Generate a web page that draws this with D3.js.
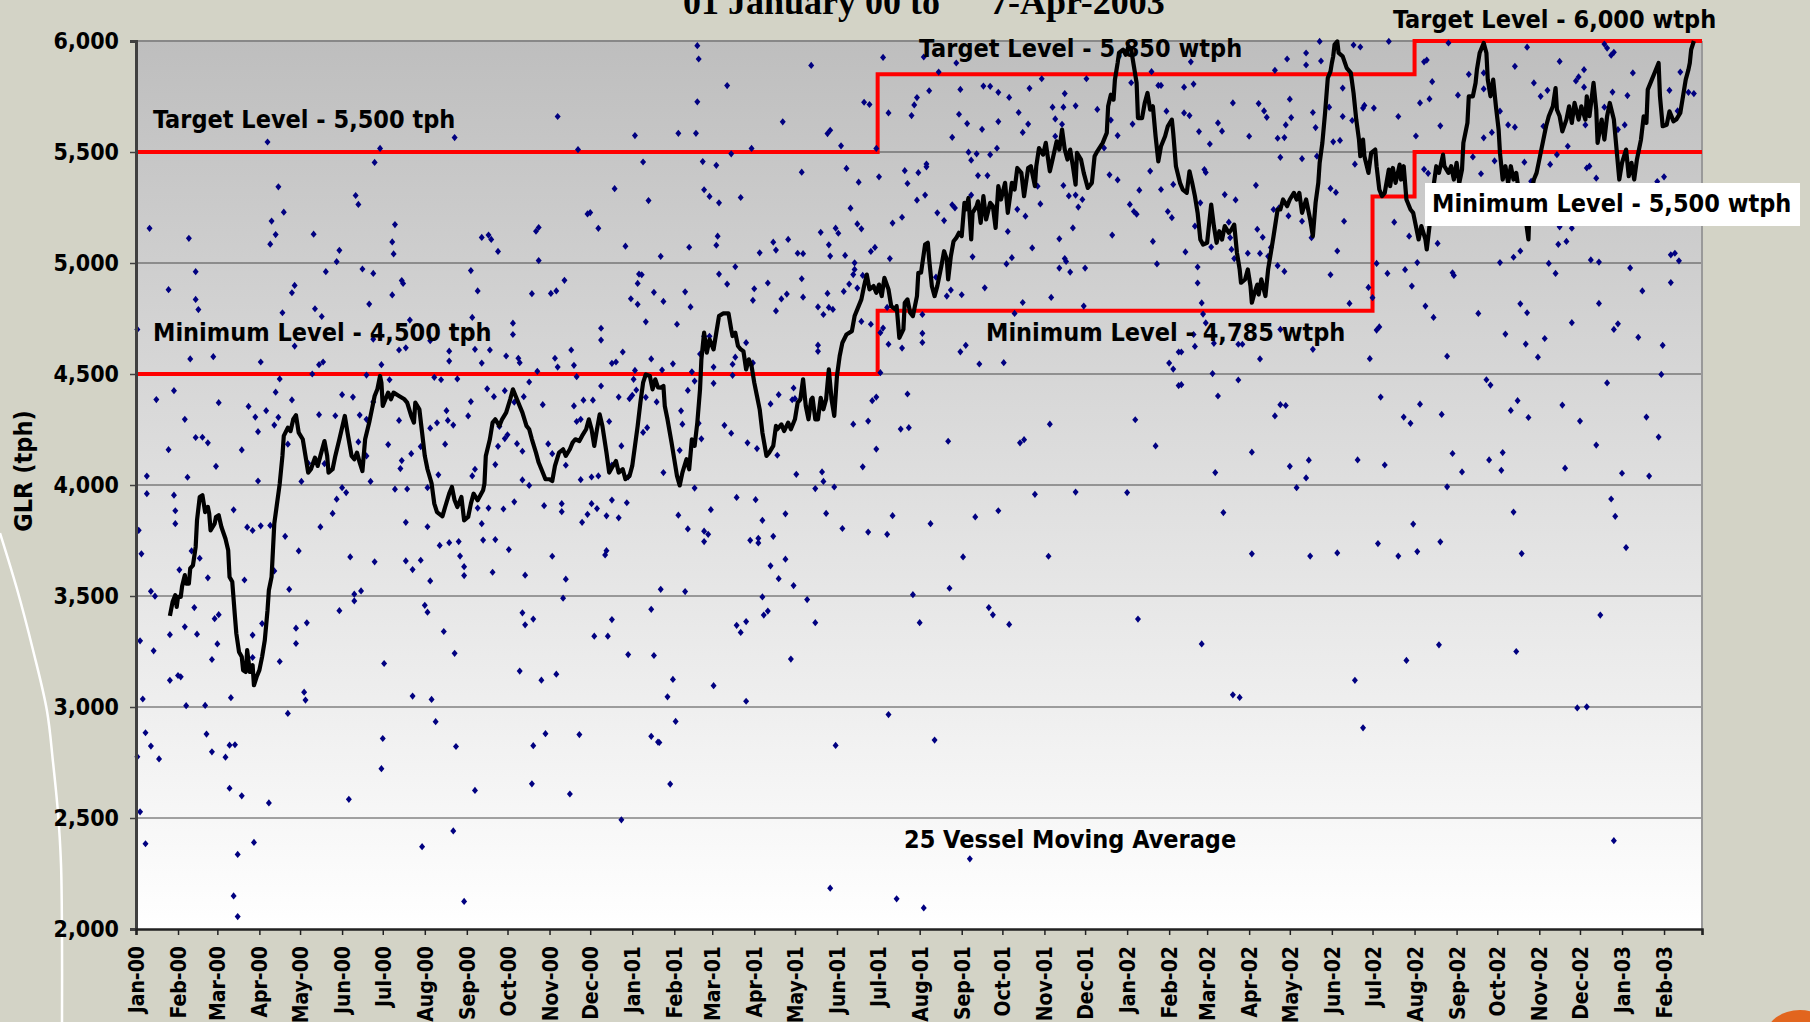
<!DOCTYPE html>
<html><head><meta charset="utf-8">
<script src="https://cdn.jsdelivr.net/npm/d3@7"></script>
<style>
html,body{margin:0;padding:0;background:#D3D3C6;overflow:hidden;}
svg{display:block;}
.lbl{font-family:'DejaVu Sans Condensed','DejaVu Sans',sans-serif;font-stretch:condensed;font-weight:bold;fill:#000;}
</style></head><body>
<svg id="chart" width="1810" height="1022"></svg>
<script>
// ---------------- DATA ----------------
// x values are days since 01-Jan-2000, y values are GLR (tph)
const yTickValues = [2000, 2500, 3000, 3500, 4000, 4500, 5000, 5500, 6000];

// Target / minimum levels: [day, value] step points
const targetLevelSteps = [[0,5500],[547,5850],[943,6000],[1155,6000]];
const minimumLevelSteps = [[0,4500],[547,4785],[912,5300],[943,5500],[1155,5500]];

// Individual vessel loading rates
const vesselLoads2000 = [
[311,5660],[97,5545],[235,5565],[180,5516],[326,5511],[368,5574],[176,5453],[374,5455],[105,5343],[353,5335],[162,5304],[164,5264],[378,5281],[109,5229],[333,5221],[335,5227],[100,5189],[191,5173],[10,5156],[295,5143],[297,5160],[341,5156],[39,5111],[131,5130],[103,5128],[255,5115],[260,5126],[262,5106],[99,5085],[189,5095],[150,5057],[190,5041],[267,5052],[361,5076],[148,5006],[297,5011],[44,4961],[140,4961],[167,4973],[175,4953],[247,4966],[316,4922],[371,4950],[373,4947],[24,4880],[117,4899],[115,4866],[196,4921],[197,4908],[252,4874],[292,4862],[306,4863],[310,4874],[370,4908],[382,4868],[189,4856],[44,4836],[365,4839],[370,4814],[46,4790],[172,4815],[132,4794],[108,4776],[137,4759],[248,4755],[202,4743],[278,4729],[376,4735],[1,4701],[343,4706],[278,4678],[175,4657],[343,4653],[217,4650],[117,4626],[199,4618],[194,4608],[250,4611],[261,4608],[231,4603],[321,4608],[359,4599],[57,4578],[40,4568],[273,4581],[309,4571],[282,4571],[283,4551],[92,4554],[231,4558],[135,4542],[138,4554],[255,4549],[311,4531],[323,4539],[181,4542],[351,4548],[354,4554],[380,4568],[130,4500],[170,4495],[296,4512],[368,4516],[106,4478],[220,4485],[225,4474],[237,4478],[187,4474],[325,4488],[367,4476],[290,4464],[103,4418],[28,4425],[15,4385],[259,4433],[272,4425],[152,4407],[160,4396],[264,4398],[279,4373],[286,4398],[343,4446],[369,4428],[356,4396],[364,4389],[366,4404],[376,4395],[115,4383],[247,4376],[330,4382],[337,4382],[61,4371],[83,4354],[323,4356],[300,4362],[384,4374],[96,4335],[175,4374],[229,4335],[88,4306],[105,4305],[135,4317],[147,4312],[165,4315],[170,4296],[245,4311],[36,4296],[194,4291],[230,4291],[234,4270],[325,4286],[328,4296],[349,4286],[102,4270],[90,4240],[217,4256],[222,4280],[268,4264],[274,4226],[272,4209],[374,4237],[377,4258],[44,4214],[49,4215],[53,4190],[112,4184],[164,4194],[186,4182],[228,4184],[267,4174],[281,4186],[304,4185],[358,4176],[24,4159],[78,4158],[203,4141],[285,4152],[307,4141],[210,4173],[127,4098],[139,4096],[196,4110],[265,4092],[317,4089],[351,4090],[59,4084],[170,4131],[8,4040],[38,4035],[223,4046],[248,4041],[250,4071],[195,4074],[336,4036],[341,4041],[363,4036],[90,4018],[122,4016],[173,4016],[285,4023],[328,4024],
[8,3961],[28,3954],[29,3884],[29,3826],[2,3796],[4,3690],[72,3888],[82,3810],[86,3795],[92,3816],[99,3818],[110,3769],[136,3811],[145,3872],[148,3936],[152,3988],[155,3966],[191,3981],[200,3982],[215,3988],[199,3832],[215,3812],[224,3728],[231,3740],[238,3745],[239,3680],[242,3632],[242,3592],[252,3896],[260,3896],[255,3826],[256,3752],[265,3754],[271,3892],[279,3924],[275,3709],[263,3607],[290,3998],[301,3907],[314,3916],[314,3880],[307,3679],[287,3594],[317,3576],[315,3490],[329,3832],[333,3868],[336,3916],[340,3894],[347,3861],[351,3932],[356,3852],[362,3920],[346,3685],[347,3704],[120,3703],[158,3676],[176,3654],[199,3658],[204,3619],[210,3661],[217,3568],[47,3670],[41,3703],[32,3618],[53,3582],[80,3572],[102,3613],[11,3521],[14,3499],[113,3530],[161,3508],[161,3478],[166,3523],[150,3434],[126,3379],[118,3355],[118,3286],[43,3448],[36,3361],[45,3328],[58,3398],[61,3416],[60,3284],[56,3214],[3,3298],[13,3253],[25,3326],[25,3120],[31,3142],[33,3136],[5,3036],[37,3006],[51,3007],[70,3042],[86,3324],[86,3223],[93,3376],[106,3205],[124,3067],[125,3031],[112,2971],[7,2884],[11,2824],[17,2766],[1,2776],[52,2878],[56,2798],[69,2828],[73,2830],[66,2774],[69,2634],[78,2600],[98,2568],[3,2528],[7,2384],[87,2390],[75,2336],[72,2149],[75,2056],[157,2584],[181,2722],[182,2858],[183,3196],[204,3049],[218,3034],[221,2934],[213,3458],[215,3427],[227,3340],[235,3242],[236,2822],[250,2624],[211,2371],[234,2442],[242,2124],[285,3424],[287,3370],[293,3396],[283,3162],[299,3121],[310,3148],[293,2826],[302,2880],[292,2654],[320,2608],[327,2876],[338,3319],[348,3319],[351,3394],[363,3236],[358,2492],[380,3440],[382,3232],[380,2868],[385,2842]
];
const vesselLoads2001 = [
[414,5979],[415,5919],[498,5890],[551,5926],[581,5928],[605,5901],[592,5860],[436,5799],[414,5726],[537,5724],[541,5714],[585,5776],[608,5782],[625,5797],[630,5796],[636,5769],[644,5746],[659,5787],[668,5830],[685,5763],[701,5830],[734,5812],[749,5862],[754,5800],[756,5800],[760,5684],[576,5745],[574,5712],[572,5664],[555,5676],[477,5636],[400,5584],[413,5584],[510,5583],[512,5598],[520,5528],[454,5516],[439,5492],[546,5516],[607,5670],[613,5628],[624,5602],[602,5566],[636,5637],[651,5678],[658,5626],[654,5588],[676,5702],[684,5702],[693,5708],[709,5692],[678,5649],[683,5625],[678,5571],[719,5644],[724,5574],[735,5626],[714,5518],[614,5499],[620,5492],[630,5488],[635,5517],[616,5463],[418,5457],[428,5440],[491,5409],[524,5426],[533,5364],[548,5388],[567,5416],[569,5358],[577,5407],[583,5446],[583,5433],[582,5306],[576,5283],[621,5394],[628,5394],[616,5306],[602,5262],[604,5248],[591,5226],[596,5191],[565,5206],[558,5180],[527,5247],[532,5176],[535,5154],[419,5330],[423,5300],[430,5271],[446,5295],[665,5346],[684,5349],[667,5266],[688,5302],[693,5306],[695,5252],[698,5286],[650,5242],[656,5211],[643,5142],[691,5158],[681,5109],[661,5068],[720,5126],[718,5397],[724,5374],[748,5414],[740,5328],[733,5264],[736,5232],[738,5220],[756,5331],[761,5232],[764,5204],[750,5097],[765,5354],[753,4996],[387,5030],[408,5071],[429,5121],[428,5080],[460,5046],[470,5094],[472,5058],[481,5106],[488,5044],[492,5042],[505,5138],[516,5157],[518,5134],[511,5082],[512,5031],[523,5034],[542,5052],[545,5070],[556,5020],[530,5001],[530,4971],[529,4948],[442,4983],[430,4950],[436,4905],[456,4884],[455,4832],[466,4910],[491,4929],[480,4860],[476,4838],[492,4846],[510,4863],[522,4872],[526,4905],[532,4887],[536,4944],[405,4870],[389,4827],[409,4802],[399,4724],[472,4784],[503,4802],[507,4768],[511,4800],[514,4791],[535,4737],[542,4724],[551,4707],[554,4800],[549,4686],[555,4634],[565,4617],[580,4768],[580,4683],[580,4642],[590,4936],[601,4878],[598,4851],[609,4857],[626,4888],[648,4773],[654,4822],[675,4845],[699,4806],[642,4996],[646,5024],[617,5028],[685,5020],[686,5007],[681,4977],[689,4959],[700,4977],[426,4531],[419,4670],[423,4670],[440,4544],[440,4494],[442,4576],[410,4510],[412,4468],[396,4546],[388,4518],[407,4426],[416,4590],[450,4641],[455,4550],[426,4458],[402,4334],[403,4274],[401,4156],[417,4208],[415,4278],[434,4269],[439,4233],[389,4056],[451,4190],[458,4164],[468,4365],[474,4407],[473,4134],[485,4437],[484,4384],[486,4389],[503,4630],[503,4602],[487,4048],[506,4059],[507,4016],[529,4274],[540,4288],[543,4380],[546,4396],[546,4162],[536,4082],[549,4506],[569,4410],[570,4258],[564,4252],[599,4197],[608,4600],[612,4629],[622,4545],[640,4551],[652,4190],[655,4204],[674,4274],[737,4294],[752,4176],[762,4549],[765,4522],[769,4599],[769,4448],
[412,3986],[400,3864],[407,3802],[424,3889],[419,3792],[422,3778],[419,3745],[443,3944],[457,3934],[462,3841],[453,3751],[459,3760],[459,3739],[470,3769],[479,3870],[479,3666],[468,3636],[474,3578],[485,3547],[501,3984],[515,3991],[509,3872],[521,3804],[540,3788],[554,3778],[558,3862],[586,3826],[610,3676],[619,3856],[636,3884],[663,3958],[673,3679],[693,3968],[731,3966],[600,3535],[573,3506],[387,3530],[405,3520],[462,3496],[495,3484],[443,3368],[446,3336],[450,3385],[463,3414],[466,3432],[501,3380],[578,3380],[629,3448],[632,3415],[644,3372],[739,3396],[483,3216],[396,3124],[392,3046],[426,3096],[450,3026],[398,2935],[386,2840],[555,2966],[516,2827],[589,2851],[394,2653],[615,2316],[512,2184],[561,2136],[581,2095]
];
const vesselLoads2002 = [
[873,5998],[898,5982],[903,5973],[924,5998],[968,5991],[1026,5972],[1083,5986],[1085,5968],[1088,5936],[1090,5949],[863,5946],[849,5919],[863,5892],[874,5910],[778,5906],[840,5868],[950,5906],[952,5914],[1017,5886],[1050,5908],[1068,5871],[1064,5838],[1062,5820],[1104,5856],[1139,5860],[983,5850],[994,5856],[994,5784],[956,5817],[773,5792],[780,5806],[890,5788],[1031,5811],[1041,5778],[1036,5751],[1068,5792],[1089,5770],[1100,5754],[1131,5778],[1145,5769],[1149,5763],[809,5721],[828,5718],[851,5738],[832,5685],[834,5656],[773,5676],[777,5664],[880,5702],[868,5678],[906,5710],[905,5698],[913,5698],[947,5721],[954,5739],[975,5756],[931,5660],[890,5660],[852,5655],[798,5631],[801,5594],[784,5592],[821,5571],[842,5562],[847,5565],[848,5622],[870,5610],[792,5536],[883,5546],[888,5552],[897,5642],[962,5618],[944,5572],[994,5564],[1006,5684],[1012,5622],[1017,5612],[1000,5588],[1038,5616],[1069,5622],[1083,5702],[1093,5601],[1098,5622],[1137,5685],[1056,5526],[844,5476],[860,5470],[871,5481],[788,5421],[789,5408],[899,5445],[986,5478],[1002,5460],[1024,5454],[1043,5444],[1048,5488],[1072,5436],[1070,5428],[1077,5382],[1122,5367],[1127,5388],[950,5422],[953,5404],[992,5402],[1029,5368],[826,5350],[803,5308],[811,5284],[881,5336],[885,5318],[785,5271],[839,5241],[843,5248],[850,5212],[860,5188],[891,5188],[781,5166],[827,5152],[831,5116],[806,5184],[807,5114],[928,5184],[939,5121],[774,5050],[793,5072],[808,5061],[810,5020],[820,5044],[829,5043],[835,5030],[837,5070],[867,5114],[886,5054],[960,5088],[1050,5163],[1059,5157],[1049,5084],[1055,5097],[1016,5026],[1021,5054],[1006,5002],[1042,4998],[1073,5014],[1079,5004],[1102,4978],[1132,5037],[1135,5044],[1138,5010],[783,4982],[783,4910],[842,4988],[847,4962],[881,4947],[915,4998],[923,4953],[936,4970],[945,5002],[941,4896],[909,4890],[912,4844],[971,4956],[972,4944],[1047,4953],[1111,4874],[1132,4912],[786,4820],[895,4818],[951,4806],[957,4755],[990,4773],[1021,4816],[1026,4776],[1079,4818],[787,4770],[789,4730],[1059,4731],[1090,4701],[1093,4726],[915,4698],[917,4712],[1010,4680],[1108,4665],[1039,4660],[1126,4629],[1025,4635],[1034,4576],[967,4580],[910,4569],[829,4568],[868,4611],[780,4678],[781,4624],[795,4638],[813,4634],[816,4634],[844,4701],[771,4599],[794,4502],[813,4473],[771,4452],[798,4401],[840,4311],[844,4362],[848,4358],[918,4396],[947,4364],[935,4306],[940,4278],[963,4318],[996,4474],[999,4450],[1014,4336],[1019,4380],[1027,4304],[1052,4360],[1065,4288],[1085,4460],[1114,4306],[1125,4498],[1123,4216],[1077,4180],[823,4148],[796,4056],[851,4084],[865,4112],[863,4032],[901,4113],[921,4090],[971,4142],[978,4059],[998,4113],[1007,4066],[1008,4146],[1054,4076],[1096,4053],[1116,4040],
[856,3988],[967,3992],[802,3876],[823,3690],[866,3680],[886,3694],[916,3736],[931,3680],[942,3824],[945,3700],[962,3744],[1016,3878],[1022,3691],[1088,3937],[1091,3859],[1099,3718],[786,3284],[809,3055],[814,3043],[899,3120],[905,2906],[937,3210],[961,3280],[1018,3250],[1063,2996],[1070,3001],[1080,3414],[1090,2398]
];

// 25 vessel moving average
const movingAverage2000 = [
[25,3410],[27,3474],[29,3504],[30,3451],[31,3496],[33,3496],[34,3544],[36,3594],[37,3556],[39,3556],[40,3624],[42,3638],[44,3721],[45,3841],[47,3946],[49,3954],[51,3878],[53,3901],[54,3871],[55,3796],[58,3826],[59,3856],[61,3864],[63,3811],[66,3758],[68,3706],[69,3586],[71,3564],[73,3406],[74,3331],[76,3248],[78,3226],[79,3166],[81,3158],[82,3256],[84,3158],[86,3188],[87,3098],[89,3136],[91,3166],[93,3226],[95,3301],[97,3436],[98,3526],[100,3586],[101,3706],[102,3826],[104,3916],[105,3961],[106,4006],[108,4131],[109,4221],[112,4258],[114,4243],[116,4296],[118,4314],[120,4236],[123,4206],[125,4131],[127,4056],[129,4071],[132,4123],[134,4086],[136,4131],[139,4198],[141,4131],[142,4056],[145,4071],[147,4131],[150,4206],[154,4311],[156,4236],[159,4131],[161,4116],[163,4146],[165,4101],[167,4063],[169,4206],[172,4281],[175,4371],[176,4401],[178,4431],[180,4491],[181,4461],[182,4356],[184,4386],[186,4416],[188,4386],[190,4416],[194,4401],[198,4386],[200,4371],[203,4311],[205,4281],[206,4371],[209,4341],[211,4236],[213,4131],[215,4071],[218,4008],[220,3916],[222,3878],[226,3859],[228,3901],[231,3961],[233,3991],[235,3931],[237,3901],[240,3946],[242,3841],[245,3856],[247,3916],[249,3961],[252,3931],[256,3976],[257,4006],[258,4131],[261,4206],[263,4281],[265,4296],[268,4266],[270,4296],[273,4326],[276,4386],[278,4431],[280,4401],[283,4356],[285,4326],[288,4266],[290,4251],[292,4206],[295,4146],[297,4101],[300,4056],[302,4026],[305,4026],[307,4018],[309,4086],[312,4146],[315,4161],[317,4131],[320,4161],[322,4191],[324,4206],[327,4198],[329,4221],[332,4251],[334,4296],[336,4251],[338,4176],[340,4251],[342,4318],[344,4266],[347,4146],[349,4056],[351,4078],[354,4108],[356,4056],[359,4071],[361,4026],[364,4041],[366,4086],[368,4176],[370,4266],[372,4371],[374,4461],[376,4498],[379,4491],[381,4431],[383,4476],[385,4440]
];
const movingAverage2001 = [
[387,4438],[389,4446],[390,4356],[392,4296],[395,4191],[397,4116],[399,4041],[401,3998],[403,4056],[406,4116],[408,4071],[410,4206],[412,4176],[414,4281],[416,4431],[417,4566],[419,4686],[421,4596],[423,4656],[426,4611],[428,4686],[430,4761],[433,4773],[437,4773],[439,4701],[440,4671],[442,4686],[444,4626],[446,4611],[448,4603],[450,4521],[452,4566],[454,4536],[456,4461],[458,4401],[460,4341],[462,4236],[465,4131],[467,4146],[470,4176],[472,4266],[473,4251],[476,4273],[478,4243],[481,4281],[483,4251],[486,4296],[488,4371],[490,4386],[492,4476],[494,4356],[496,4296],[498,4386],[499,4393],[501,4296],[503,4296],[505,4393],[507,4341],[509,4386],[511,4521],[513,4386],[515,4311],[517,4491],[519,4581],[521,4641],[524,4678],[528,4693],[530,4761],[532,4791],[535,4836],[537,4896],[539,4948],[541,4881],[544,4896],[546,4866],[548,4903],[550,4851],[552,4933],[555,4881],[557,4806],[560,4791],[561,4806],[563,4663],[566,4701],[567,4821],[569,4836],[571,4776],[573,4761],[576,4851],[577,4956],[579,4956],[582,5083],[584,5091],[585,5016],[587,4896],[589,4851],[591,4896],[594,4986],[596,5053],[598,5016],[599,4926],[601,5031],[603,5098],[605,5113],[607,5136],[609,5121],[611,5271],[612,5241],[614,5293],[616,5106],[617,5226],[620,5256],[621,5278],[623,5181],[625,5301],[627,5196],[630,5271],[632,5256],[634,5158],[636,5346],[638,5286],[641,5361],[643,5226],[646,5361],[648,5331],[650,5428],[653,5406],[655,5301],[658,5428],[660,5436],[663,5346],[664,5436],[666,5518],[669,5488],[671,5541],[674,5413],[676,5466],[679,5548],[681,5511],[683,5601],[685,5511],[687,5466],[689,5511],[691,5436],[693,5353],[694,5496],[697,5466],[699,5406],[702,5338],[705,5361],[707,5481],[709,5503],[713,5541],[716,5586],[717,5706],[719,5758],[721,5736],[722,5826],[724,5901],[725,5946],[728,5961],[730,5938],[732,5976],[734,5961],[736,5886],[738,5811],[739,5653],[742,5653],[744,5721],[746,5766],[748,5691],[750,5706],[752,5571],[754,5458],[756,5526],[759,5571],[761,5616],[764,5646],[765,5586],[767,5436],[770,5361]
];
const movingAverage2002 = [
[772,5331],[775,5316],[777,5413],[779,5361],[781,5301],[783,5226],[785,5106],[787,5083],[790,5091],[793,5263],[795,5166],[797,5091],[799,5143],[801,5106],[803,5166],[806,5136],[808,5151],[810,5173],[812,5046],[814,4971],[815,4911],[818,4926],[820,4971],[822,4896],[823,4821],[825,4866],[827,4903],[828,4858],[830,4926],[833,4851],[835,4971],[837,5046],[839,5121],[842,5241],[844,5241],[846,5286],[849,5256],[851,5286],[854,5316],[856,5286],[858,5316],[860,5226],[863,5286],[866,5196],[868,5121],[870,5271],[872,5361],[873,5451],[875,5541],[877,5676],[879,5833],[881,5863],[882,5901],[883,5931],[884,5984],[886,5998],[887,5946],[890,5931],[893,5878],[896,5856],[898,5766],[900,5646],[902,5556],[903,5481],[905,5556],[906,5481],[909,5406],[911,5496],[914,5511],[915,5436],[917,5331],[919,5301],[921,5316],[924,5421],[925,5346],[927,5428],[929,5361],[932,5443],[933,5376],[935,5436],[937,5286],[940,5241],[942,5226],[944,5166],[946,5106],[948,5166],[951,5106],[952,5061],[954,5166],[957,5346],[959,5436],[961,5406],[964,5488],[965,5436],[968,5406],[970,5436],[972,5376],[974,5451],[976,5361],[978,5421],[979,5541],[982,5631],[983,5751],[986,5751],[988,5811],[989,5871],[991,5946],[994,5991],[996,5946],[997,5826],[999,5751],[1001,5826],[1003,5706],[1005,5601],[1006,5496],[1008,5376],[1010,5436],[1012,5361],[1014,5436],[1016,5376],[1018,5406],[1020,5316],[1023,5226],[1025,5196],[1027,5106],[1028,5286],[1031,5376],[1033,5406],[1035,5466],[1038,5556],[1040,5616],[1042,5661],[1045,5706],[1047,5788],[1048,5691],[1050,5661],[1052,5593],[1055,5646],[1057,5706],[1059,5631],[1061,5721],[1064,5646],[1066,5706],[1069,5646],[1070,5751],[1072,5661],[1075,5811],[1077,5691],[1078,5541],[1081,5646],[1083,5556],[1085,5661],[1087,5721],[1090,5646],[1092,5511],[1094,5376],[1096,5451],[1099,5511],[1101,5391],[1103,5451],[1105,5376],[1107,5466],[1110,5556],[1112,5661],[1114,5631],[1115,5781],[1118,5826],[1120,5856],[1123,5901],[1124,5751],[1126,5616],[1129,5623],[1131,5683],[1134,5638],[1136,5646],[1139,5676],[1141,5751],[1143,5826],[1145,5871],[1146,5901],[1147,5961],[1149,6000]
];

// ---------------- CHART ----------------
const svg = d3.select("#chart");
const start = new Date(Date.UTC(2000,0,1));
const end = new Date(Date.UTC(2003,2,1));
const toDate = d => d3.utcDay.offset(start, d);

const x = d3.scaleUtc().domain([start, end]).range([136, 1702]);
const y = d3.scaleLinear().domain([2000, 6000]).range([929, 41]);

const defs = svg.append("defs");
const grad = defs.append("linearGradient").attr("id","plotGrad").attr("x1",0).attr("y1",0).attr("x2",0).attr("y2",1);
grad.append("stop").attr("offset","0%").attr("stop-color","#BEBEBE");
grad.append("stop").attr("offset","100%").attr("stop-color","#FFFFFF");

// decorative slide elements
svg.append("path")
  .attr("d", d3.line().curve(d3.curveCatmullRom)([[0,533],[17,589],[33,650],[47,711],[53,762],[58,813],[61,864],[62,940],[62,1022]]))
  .attr("fill","none").attr("stroke","#FFFFFF").attr("stroke-width",2.5);
svg.append("ellipse").attr("cx",1800).attr("cy",1036).attr("rx",34).attr("ry",26).attr("fill","#E2651E");

// plot area
svg.append("rect").attr("x",136).attr("y",41).attr("width",1566).attr("height",888).attr("fill","url(#plotGrad)");

// gridlines
svg.append("g").selectAll("line").data(yTickValues.filter(v => v > 2000 && v < 6000)).join("line")
  .attr("x1",136).attr("x2",1702).attr("y1",d=>y(d)).attr("y2",d=>y(d))
  .attr("stroke","#4a4a4a").attr("stroke-width",1);
// top + right border
svg.append("line").attr("x1",136).attr("x2",1702).attr("y1",y(6000)).attr("y2",y(6000)).attr("stroke","#888").attr("stroke-width",2);
svg.append("line").attr("x1",1702).attr("x2",1702).attr("y1",y(6000)).attr("y2",y(2000)).attr("stroke","#999").attr("stroke-width",2);

// step levels
const stepLine = d3.line().curve(d3.curveStepAfter).x(d=>x(toDate(d[0]))).y(d=>y(d[1]));
svg.append("path").attr("d",stepLine(targetLevelSteps)).attr("fill","none").attr("stroke","#FF0000").attr("stroke-width",4);
svg.append("path").attr("d",stepLine(minimumLevelSteps)).attr("fill","none").attr("stroke","#FF0000").attr("stroke-width",4);

// scatter of individual vessels
const allLoads = vesselLoads2000.concat(vesselLoads2001, vesselLoads2002);
svg.append("g").selectAll("path").data(allLoads).join("path")
  .attr("transform", d => `translate(${x(toDate(d[0]))},${y(d[1])})`)
  .attr("d","M0,-3.6L3,0L0,3.6L-3,0Z")
  .attr("fill","#000080");

// annotations (under the moving average)
const ann = svg.append("g");
function label(txt, xx, yy){ return ann.append("text").attr("class","lbl").attr("x",xx).attr("y",yy).attr("font-size",25).text(txt); }
label("Target Level - 5,500 tph", 153, 128);
label("Minimum Level - 4,500 tph", 153, 341);
label("Target Level - 5,850 wtph", 919, 57);
label("Minimum Level - 4,785 wtph", 986, 341);
label("25 Vessel Moving Average", 904, 848);
label("Target Level - 6,000 wtph", 1393, 28);

// moving average line
const maData = movingAverage2000.concat(movingAverage2001, movingAverage2002);
svg.append("path")
  .attr("d", d3.line().x(d=>x(toDate(d[0]))).y(d=>y(d[1]))(maData))
  .attr("fill","none").attr("stroke","#000").attr("stroke-width",4.2).attr("stroke-linejoin","round");

// white box label
svg.append("rect").attr("x",1425).attr("y",183).attr("width",375).attr("height",43).attr("fill","#FFFFFF");
svg.append("text").attr("class","lbl").attr("x",1432).attr("y",212).attr("font-size",25).text("Minimum Level - 5,500 wtph");

// y axis
const yAxis = d3.axisLeft(y).tickValues(yTickValues).tickFormat(d3.format(",")).tickSize(6).tickPadding(11);
const gy = svg.append("g").attr("transform","translate(136,0)").call(yAxis);
gy.select(".domain").attr("stroke","#404040").attr("stroke-width",3);
gy.selectAll(".tick line").attr("stroke","#404040").attr("stroke-width",1.5);
gy.selectAll("text").attr("class","lbl").attr("font-size",23).attr("fill","#000");

// x axis
const monthTicks = d3.utcMonth.range(start, d3.utcDay.offset(end,1));
const xAxis = d3.axisBottom(x).tickValues(monthTicks).tickFormat(d3.utcFormat("%b-%y")).tickSize(6);
const gx = svg.append("g").attr("transform","translate(0,929)").call(xAxis);
gx.select(".domain").attr("stroke","#222").attr("stroke-width",2.5);
gx.selectAll(".tick line").attr("stroke","#222").attr("stroke-width",1.5);
gx.selectAll("text").attr("class","lbl").attr("font-size",21).attr("fill","#000")
  .attr("transform","rotate(-90)").attr("x",-17).attr("y",0).attr("dy","0.36em").attr("text-anchor","end")
  .filter(d => +d === +end).remove();

// axis title
svg.append("text").attr("class","lbl").attr("font-size",25)
  .attr("transform","translate(32,471) rotate(-90)").attr("text-anchor","middle").text("GLR (tph)");

// chart title (cut off at top as in the original slide)
svg.append("text").attr("x",683).attr("y",14).attr("font-family","'Liberation Serif','Times New Roman',serif")
  .attr("font-weight","bold").attr("font-size",36).text("01 January 00 to");
svg.append("text").attr("x",990).attr("y",14).attr("font-family","'Liberation Serif','Times New Roman',serif")
  .attr("font-weight","bold").attr("font-size",36).text("7-Apr-2003");
</script>
</body></html>
